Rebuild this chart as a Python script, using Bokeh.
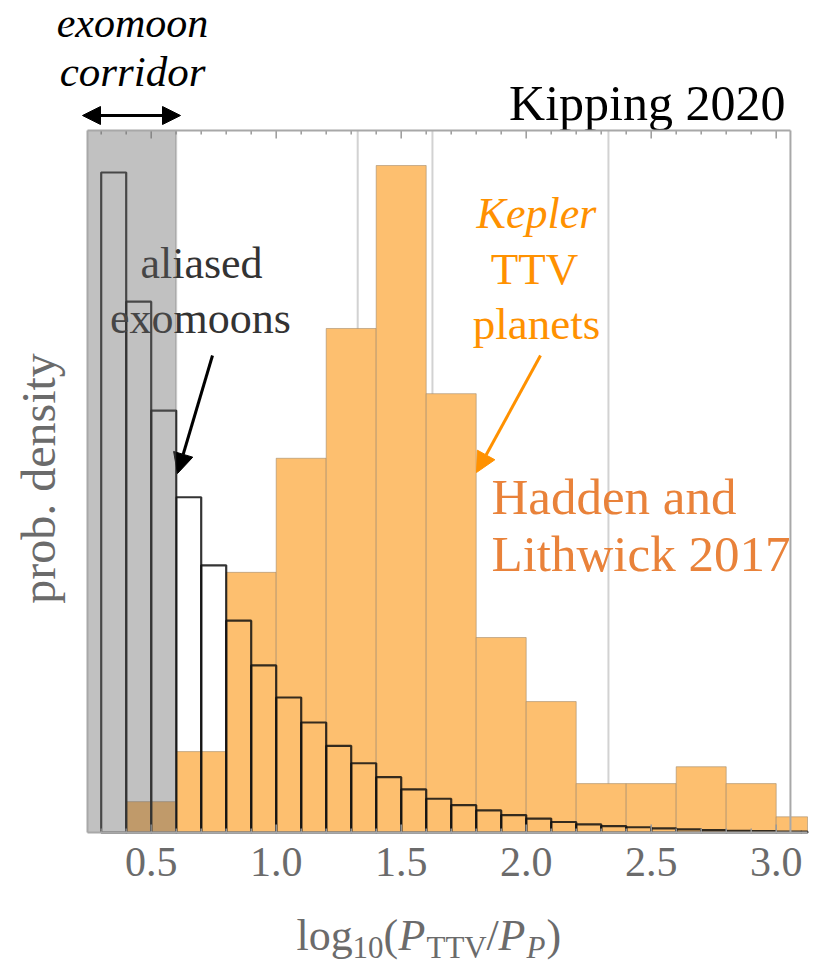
import math
from bokeh.plotting import figure
from bokeh.models import Range1d, Label, Arrow, NormalHead
from bokeh.core.properties import value
from bokeh.embed import file_html
from bokeh.resources import INLINE

# ---------------- data ----------------
kepler_left = [0.4, 0.6, 0.8, 1.0, 1.2, 1.4, 1.6, 1.8, 2.0, 2.2, 2.4, 2.6, 2.8, 3.0]
kepler_width = 0.2
kepler_density = [0.053, 0.139, 0.447, 0.643, 0.866, 1.146, 0.754, 0.335,
                  0.225, 0.084, 0.084, 0.113, 0.084, 0.027]

moon_left = [0.3, 0.4, 0.5, 0.6, 0.7, 0.8, 0.9, 1.0, 1.1, 1.2, 1.3, 1.4, 1.5, 1.6,
             1.7, 1.8, 1.9, 2.0, 2.1, 2.2, 2.3, 2.4, 2.5, 2.6, 2.7, 2.8, 2.9, 3.0, 3.1]
moon_width = 0.1
moon_density = [1.134, 0.912, 0.725, 0.576, 0.459, 0.364, 0.287, 0.232, 0.189, 0.149,
                0.119, 0.095, 0.074, 0.058, 0.047, 0.038, 0.030, 0.024, 0.018, 0.014,
                0.011, 0.009, 0.007, 0.0055, 0.004, 0.003, 0.0024, 0.0017, 0.0014]

corridor_edge = 0.6
grid_x = [0.6, 1.326, 1.625, 2.329]
major_ticks = [0.5, 1.0, 1.5, 2.0, 2.5, 3.0]
minor_ticks = [0.3, 0.4, 0.6, 0.7, 0.8, 0.9, 1.1, 1.2, 1.3, 1.4, 1.6, 1.7, 1.8, 1.9,
               2.1, 2.2, 2.3, 2.4, 2.6, 2.7, 2.8, 2.9]
tick_labels = ["0.5", "1.0", "1.5", "2.0", "2.5", "3.0"]

# plot box (data units)
BOX_LEFT, BOX_RIGHT, PLOT_END = 0.2452, 3.057, 3.1252
BOX_TOP = 1.2062

# ---------------- layout ----------------
W, H = 823, 965
PXX, PXY = 250.0, 582.0          # pixels per data unit
X0 = 0.5 - 150.7 / PXX           # data x at canvas left
Y_BOTTOM_PX = 832                # canvas y of density 0
BASE_SHIFT = 0.32                # compensation of rendered baseline (fraction of font size)

def dx(px):
    return X0 + px / PXX

def dy(py):
    return (Y_BOTTOM_PX - py) / PXY

SERIF = "Liberation Serif"
GRAY_TXT = "#6b6b6b"
FRAME = "#a8a8a8"
TICK = "#9a9a9a"

p = figure(width=W, height=H, output_backend="svg", toolbar_location=None,
           x_range=Range1d(dx(0), dx(W)), y_range=Range1d(dy(H), dy(0)),
           x_axis_location=None, y_axis_location=None, min_border=0)
p.grid.visible = False
p.outline_line_color = None
p.background_fill_color = "white"
p.border_fill_color = "white"

# vertical grid lines
n = len(grid_x)
p.segment(x0=grid_x, y0=[0] * n, x1=grid_x, y1=[BOX_TOP] * n,
          line_color="#d2d2d2", line_width=2, level="underlay")

# Kepler TTV histogram (clipped at the plot range)
k_right = [min(l + kepler_width, PLOT_END) for l in kepler_left]
p.quad(left=kepler_left, right=k_right, bottom=0, top=kepler_density,
       fill_color="#fdbf6f", fill_alpha=1.0, line_color="#9a8568", line_alpha=0.55, line_width=1)

# aliased exomoon histogram (outlines)
m_right = [min(l + moon_width, PLOT_END) for l in moon_left]
p.quad(left=moon_left, right=m_right, bottom=0, top=moon_density,
       fill_color=None, line_color="#111111", line_alpha=0.85, line_width=2.2)

# ticks (top pointing down, bottom pointing up)
nm, nM = len(minor_ticks), len(major_ticks)
for ybase, sgn in ((BOX_TOP, -1), (0.0, 1)):
    p.segment(x0=minor_ticks, y0=[ybase] * nm, x1=minor_ticks,
              y1=[ybase + sgn * 4 / PXY] * nm, line_color=TICK, line_width=1.5)
    p.segment(x0=major_ticks, y0=[ybase] * nM, x1=major_ticks,
              y1=[ybase + sgn * 8 / PXY] * nM, line_color=TICK, line_width=1.5)

# tick labels
p.text(x=major_ticks, y=[dy(875 - BASE_SHIFT * 42)] * nM, text=tick_labels,
       text_font=value(SERIF), text_font_size=value("42px"), text_color=GRAY_TXT,
       text_align="center", text_baseline="alphabetic")

def lab(text, x, y, size, color="black", align="center", style="normal", baseline="alphabetic", angle=0.0):
    yy = y - BASE_SHIFT * size if baseline == "alphabetic" else y
    p.add_layout(Label(x=dx(x), y=dy(yy), text=text, text_font=SERIF, text_font_size=f"{size}px",
                       text_color=color, text_align=align, text_font_style=style,
                       text_baseline=baseline, angle=angle))

# annotations
lab("exomoon", 132, 36, 42, style="italic")
lab("corridor", 132, 85, 43, style="italic")
lab("Kipping 2020", 785, 118, 50, align="right")
lab("aliased", 201, 277, 44, color="#333333")
lab("exomoons", 200, 332, 44, color="#333333")
ORANGE = "#ff9100"
lab("Kepler", 536, 227, 44, color=ORANGE, style="italic")
lab("TTV", 534, 283, 45, color=ORANGE)
lab("planets", 536, 338, 45, color=ORANGE)
SALMON = "#e9823a"
lab("Hadden and", 491, 513, 51, color=SALMON, align="left")
lab("Lithwick 2017", 491, 570, 51, color=SALMON, align="left")
lab("prob. density", 38, 478, 48, color=GRAY_TXT, baseline="middle", angle=math.pi / 2)

# x-axis label composed of pieces
lab("log", 296, 949, 44, color=GRAY_TXT, align="left")
lab("10", 352, 957, 31, color=GRAY_TXT, align="left")
lab("(", 383, 949, 44, color=GRAY_TXT, align="left")
lab("P", 398, 949, 44, color=GRAY_TXT, align="left", style="italic")
lab("TTV", 426, 957, 31, color=GRAY_TXT, align="left")
lab("/", 486, 949, 44, color=GRAY_TXT, align="left")
lab("P", 498, 949, 44, color=GRAY_TXT, align="left", style="italic")
lab("P", 526, 957, 31, color=GRAY_TXT, align="left", style="italic")
lab(")", 546, 949, 44, color=GRAY_TXT, align="left")

# arrows
p.add_layout(Arrow(x_start=dx(212), y_start=dy(355), x_end=dx(177), y_end=dy(473),
                   line_color="black", line_width=3,
                   end=NormalHead(size=20, fill_color="black", line_color="black")))
p.add_layout(Arrow(x_start=dx(540), y_start=dy(355), x_end=dx(476), y_end=dy(472),
                   line_color=ORANGE, line_width=3,
                   end=NormalHead(size=20, fill_color=ORANGE, line_color=ORANGE)))
p.add_layout(Arrow(x_start=dx(82), y_start=dy(115), x_end=dx(180), y_end=dy(115),
                   line_color="black", line_width=3,
                   start=NormalHead(size=18, fill_color="black", line_color="black"),
                   end=NormalHead(size=18, fill_color="black", line_color="black")))

# exomoon corridor shading (on top)
p.quad(left=[BOX_LEFT], right=[corridor_edge], bottom=[0], top=[BOX_TOP],
       fill_color="#646464", fill_alpha=0.4, line_color=None, level="overlay")

# frame
p.segment(x0=[BOX_LEFT, BOX_LEFT, BOX_RIGHT, BOX_LEFT], y0=[0, BOX_TOP, 0, 0],
          x1=[BOX_LEFT, BOX_RIGHT, BOX_RIGHT, PLOT_END], y1=[BOX_TOP, BOX_TOP, BOX_TOP, 0],
          line_color=FRAME, line_width=2, level="overlay")

open("out.html", "w").write(file_html(p, INLINE))
